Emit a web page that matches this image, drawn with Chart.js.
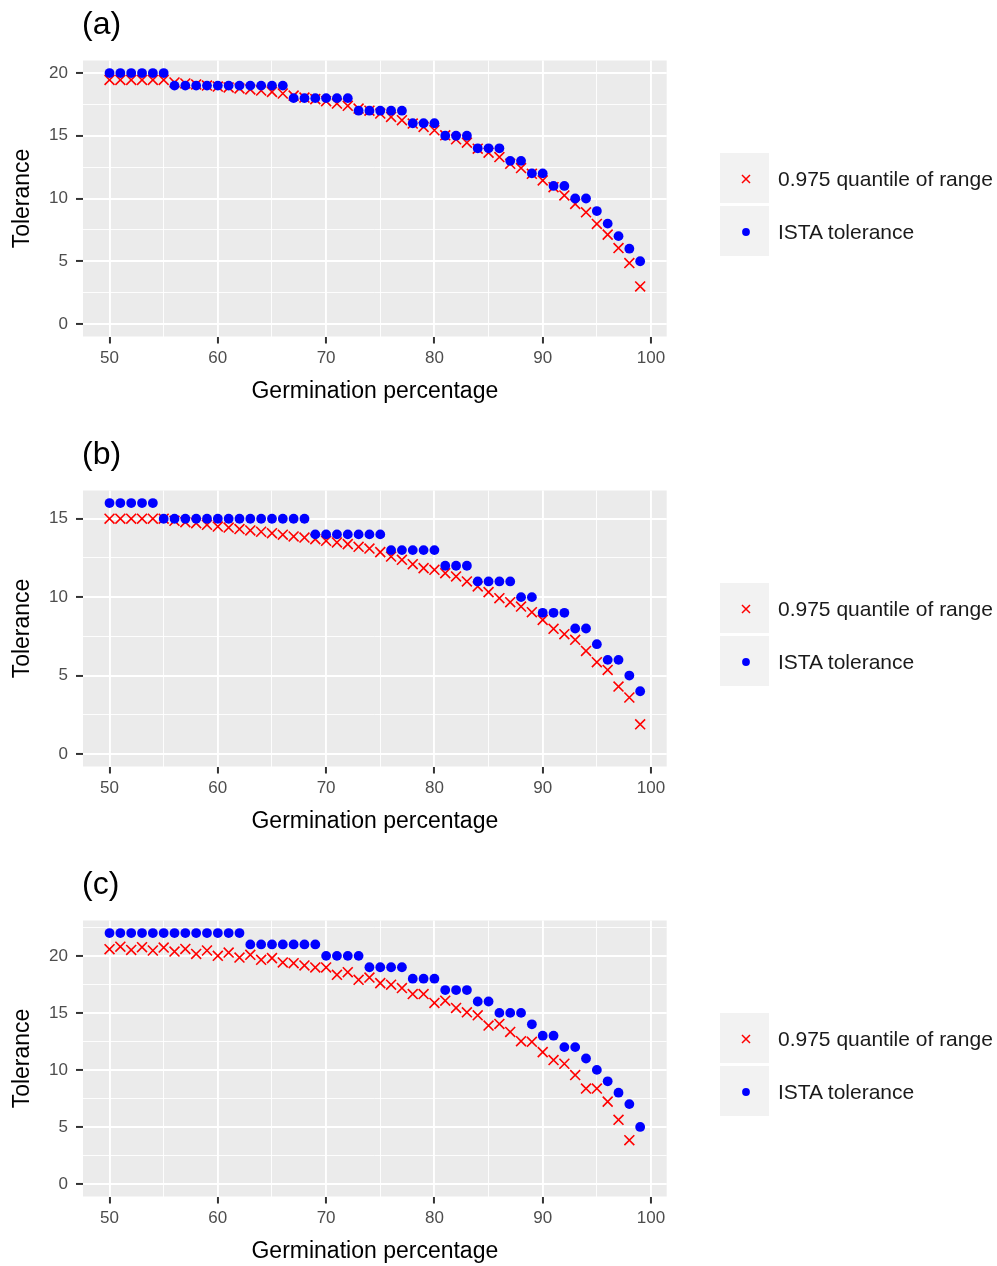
<!DOCTYPE html>
<html>
<head>
<meta charset="utf-8">
<script src="https://cdn.jsdelivr.net/npm/chart.js@4.4.1/dist/chart.umd.min.js"></script>
<style>
  body { margin: 0; background: #fff; font-family: "Liberation Sans", Arial, sans-serif; }
  .panel { position: relative; width: 997px; height: 430px; }
  .panel canvas { position: absolute; left: 0; top: 0; }
  .tag { position: absolute; left: 82px; top: 7px; font-size: 32px; line-height: 1; color: #000; }
  .key { position: absolute; left: 720px; width: 49px; height: 50px; background: #F2F2F2; }
  .key svg { position: absolute; left: 0; top: 0; }
  .lab { position: absolute; left: 778px; height: 50px; line-height: 52px; font-size: 21px; color: #1A1A1A; white-space: nowrap; }
</style>
</head>
<body>
<div class="panel" id="pa"><canvas id="ca" width="997" height="430"></canvas></div>
<div class="panel" id="pb"><canvas id="cb" width="997" height="430"></canvas></div>
<div class="panel" id="pc"><canvas id="cc" width="997" height="430"></canvas></div>
<script>
const GERMINATION = [50, 51, 52, 53, 54, 55, 56, 57, 58, 59, 60, 61, 62, 63, 64, 65, 66, 67, 68, 69,
  70, 71, 72, 73, 74, 75, 76, 77, 78, 79, 80, 81, 82, 83, 84, 85, 86, 87, 88, 89,
  90, 91, 92, 93, 94, 95, 96, 97, 98, 99];

// panel (a)
const A_ISTA = [20, 20, 20, 20, 20, 20, 19, 19, 19, 19, 19, 19, 19, 19, 19, 19, 19, 18, 18, 18,
  18, 18, 18, 17, 17, 17, 17, 17, 16, 16, 16, 15, 15, 15, 14, 14, 14, 13, 13, 12,
  12, 11, 11, 10, 10, 9, 8, 7, 6, 5];
const A_Q975 = [19.45, 19.45, 19.45, 19.45, 19.45, 19.45, 19.25, 19.17, 19.09, 19.0, 18.92, 18.85, 18.77, 18.69, 18.6, 18.5, 18.37, 18.2, 18.05, 17.92,
  17.76, 17.57, 17.39, 17.17, 17.0, 16.77, 16.5, 16.24, 15.97, 15.7, 15.44, 15.04, 14.72, 14.45, 13.97, 13.65, 13.3, 12.77, 12.43, 11.97,
  11.44, 10.9, 10.24, 9.57, 8.9, 7.97, 7.12, 6.05, 4.85, 2.99];

// panel (b)
const B_ISTA = [16, 16, 16, 16, 16, 15, 15, 15, 15, 15, 15, 15, 15, 15, 15, 15, 15, 15, 15, 14,
  14, 14, 14, 14, 14, 14, 13, 13, 13, 13, 13, 12, 12, 12, 11, 11, 11, 11, 10, 10,
  9, 9, 9, 8, 8, 7, 6, 6, 5, 4];
const B_Q975 = [15.0, 15.0, 15.0, 15.0, 15.0, 15.0, 14.87, 14.78, 14.72, 14.61, 14.5, 14.44, 14.34, 14.25, 14.17, 14.08, 13.98, 13.87, 13.8, 13.7,
  13.59, 13.49, 13.38, 13.21, 13.1, 12.87, 12.59, 12.38, 12.1, 11.85, 11.74, 11.53, 11.32, 11.0, 10.68, 10.32, 9.93, 9.68, 9.4, 9.04,
  8.55, 7.98, 7.64, 7.28, 6.57, 5.85, 5.36, 4.3, 3.6, 1.89];

// panel (c)
const C_ISTA = [22, 22, 22, 22, 22, 22, 22, 22, 22, 22, 22, 22, 22, 21, 21, 21, 21, 21, 21, 21,
  20, 20, 20, 20, 19, 19, 19, 19, 18, 18, 18, 17, 17, 17, 16, 16, 15, 15, 15, 14,
  13, 13, 12, 12, 11, 10, 9, 8, 7, 5];
const C_Q975 = [20.58, 20.8, 20.52, 20.76, 20.47, 20.73, 20.38, 20.61, 20.17, 20.47, 20.0, 20.29, 19.85, 20.09, 19.65, 19.8, 19.42, 19.36, 19.16, 18.98,
  18.98, 18.34, 18.57, 17.9, 18.1, 17.61, 17.47, 17.18, 16.65, 16.65, 15.87, 16.07, 15.43, 15.05, 14.79, 13.89, 14.03, 13.33, 12.52, 12.46,
  11.56, 10.86, 10.54, 9.55, 8.36, 8.36, 7.22, 5.62, 3.84, null];

const X_MAJOR = [50, 60, 70, 80, 90, 100];
const X_MINOR = [55, 65, 75, 85, 95];
const Y_MAJOR_A = [0, 5, 10, 15, 20];
const Y_MINOR_A = [2.5, 7.5, 12.5, 17.5];
const Y_MAJOR_B = [0, 5, 10, 15];
const Y_MINOR_B = [2.5, 7.5, 12.5];
const Y_MAJOR_C = [0, 5, 10, 15, 20];
const Y_MINOR_C = [2.5, 7.5, 12.5, 17.5, 22.5];

const LEGEND = ["0.975 quantile of range", "ISTA tolerance"];
const RED = "#FF0000";
const BLUE = "#0000FF";

Chart.defaults.font.family = '"Liberation Sans", Arial, sans-serif';

const panelBg = {
  id: "panelBg",
  beforeDraw(chart) {
    const { ctx, chartArea: a } = chart;
    ctx.save();
    ctx.fillStyle = "#EBEBEB";
    ctx.fillRect(a.left, a.top, a.right - a.left, a.bottom - a.top);
    ctx.restore();
  },
};

const toPoints = (ys) => GERMINATION.map((x, i) => ({ x, y: ys[i] }));

// ggplot-like axis: white major/minor grid, dark tick marks on majors only
function axis(major, minor, gap, extra) {
  const isMajor = (v) => major.includes(v);
  return Object.assign({
    type: "linear",
    afterBuildTicks: (s) => { s.ticks = major.concat(minor).sort((a, b) => a - b).map((v) => ({ value: v })); },
    border: { display: false },
    grid: {
      color: "#FFFFFF",
      lineWidth: (c) => (c.tick && isMajor(c.tick.value) ? 1.9 : 0.9),
      tickColor: (c) => (c.tick && isMajor(c.tick.value) ? "#333333" : "rgba(0,0,0,0)"),
      tickLength: 7,
      tickWidth: 2,
    },
    ticks: {
      autoSkip: false,
      maxRotation: 0,
      padding: gap,
      color: "#4D4D4D",
      font: { size: 17 },
      callback: (v) => (isMajor(v) ? String(v) : ""),
    },
  }, extra);
}

function makePanel(id, tag, ista, q975, yMin, yMax, yMajor, yMinor) {
  new Chart(document.getElementById("c" + id), {
    type: "scatter",
    data: {
      datasets: [
        {
          label: LEGEND[0],
          data: toPoints(q975),
          order: 1,
          pointStyle: "crossRot",
          pointRadius: 7,
          borderColor: RED,
          backgroundColor: RED,
          borderWidth: 1.6,
        },
        {
          label: LEGEND[1],
          data: toPoints(ista),
          order: 0,
          pointStyle: "circle",
          pointRadius: 4.9,
          borderWidth: 0,
          backgroundColor: BLUE,
          borderColor: BLUE,
        },
      ],
    },
    options: {
      responsive: false,
      animation: false,
      layout: { padding: { left: 0, top: 60.5, right: 330.3, bottom: 0 } },
      plugins: { legend: { display: false }, tooltip: { enabled: false } },
      scales: {
        x: axis(X_MAJOR, X_MINOR, 5, {
          min: 47.55,
          max: 101.45,
          afterFit: (s) => { s.height = 93.5; },
          title: { display: true, text: "Germination percentage", color: "#000", font: { size: 23 }, padding: { top: 0, bottom: 25 } },
        }),
        y: axis(yMajor, yMinor, 8, {
          min: yMin,
          max: yMax,
          afterFit: (s) => { s.width = 83; },
          title: { display: true, text: "Tolerance", color: "#000", font: { size: 23 }, padding: { top: 9, bottom: 0 } },
        }),
      },
    },
    plugins: [panelBg],
  });

  // panel tag and legend keys
  document.getElementById("p" + id).insertAdjacentHTML("beforeend", `
    <div class="tag">${tag}</div>
    <div class="key" style="top:153px"><svg width="49" height="50"><path d="M22 22 L30 30 M30 22 L22 30" stroke="${RED}" stroke-width="1.5"/></svg></div>
    <div class="lab" style="top:153px">${LEGEND[0]}</div>
    <div class="key" style="top:205.5px"><svg width="49" height="50"><circle cx="26" cy="26" r="3.9" fill="${BLUE}"/></svg></div>
    <div class="lab" style="top:205.5px">${LEGEND[1]}</div>`);
}

makePanel("a", "(a)", A_ISTA, A_Q975, -1, 21, Y_MAJOR_A, Y_MINOR_A);
makePanel("b", "(b)", B_ISTA, B_Q975, -0.8, 16.8, Y_MAJOR_B, Y_MINOR_B);
makePanel("c", "(c)", C_ISTA, C_Q975, -1.1, 23.1, Y_MAJOR_C, Y_MINOR_C);
</script>
</body>
</html>
